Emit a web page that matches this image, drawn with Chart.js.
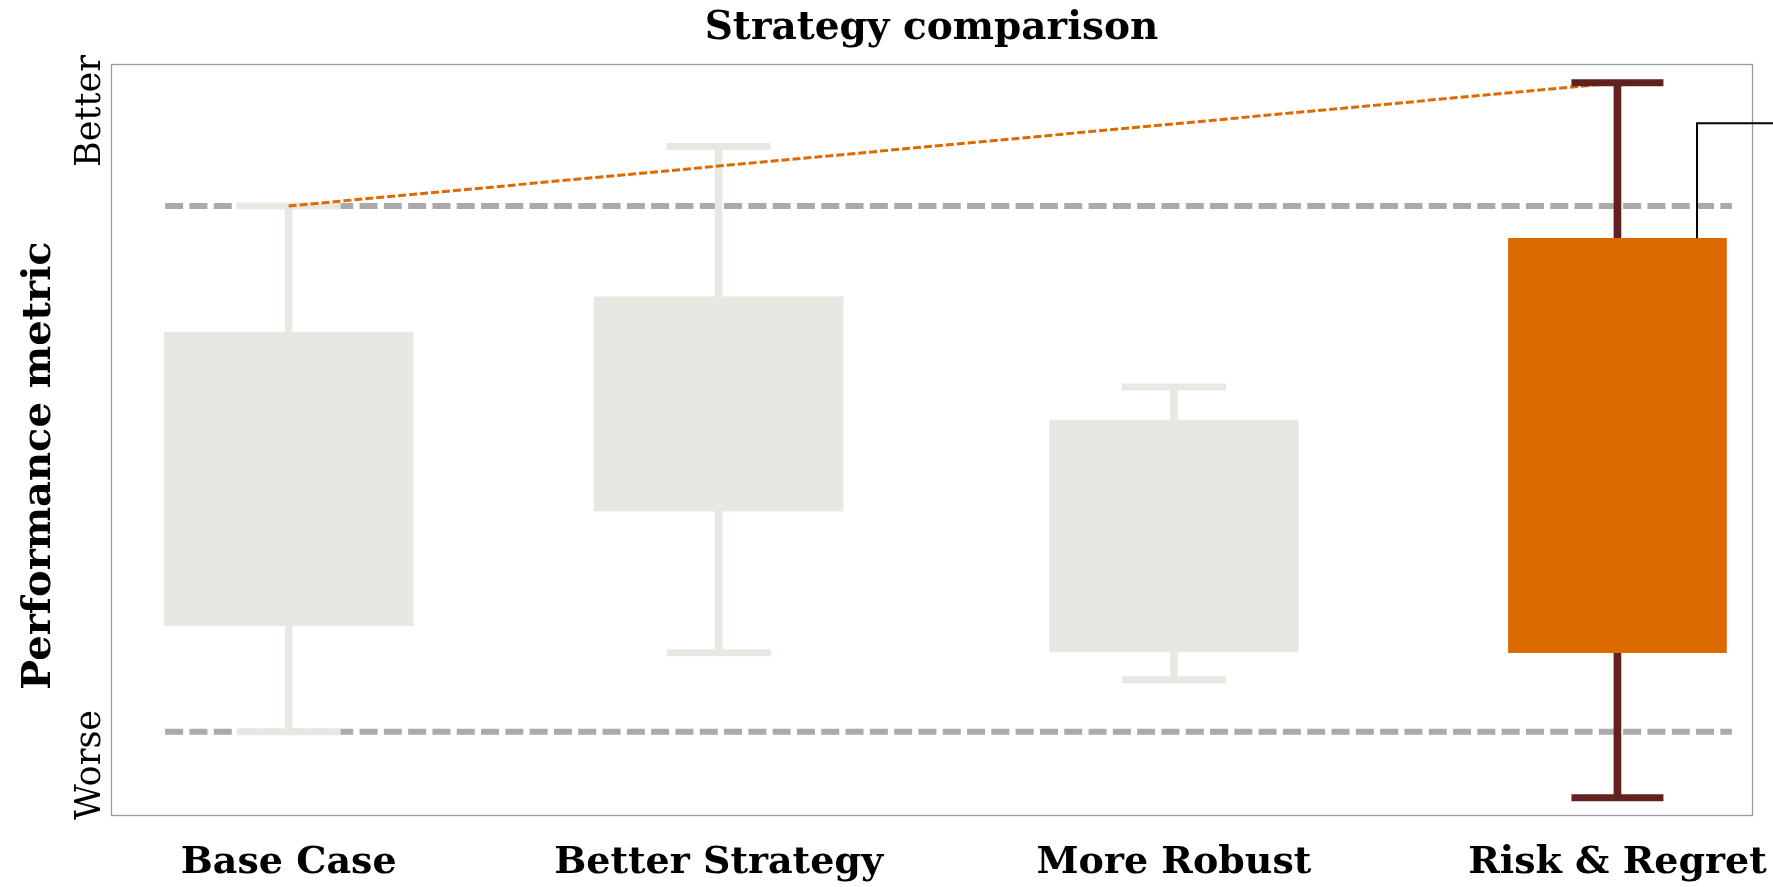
<!DOCTYPE html>
<html>
<head>
<meta charset="utf-8">
<script src="https://cdn.jsdelivr.net/npm/chart.js@4.4.1/dist/chart.umd.min.js"></script>
<style>
  html, body { margin: 0; padding: 0; background: #ffffff; }
  #wrap { width: 1773px; height: 887px; position: relative; }
</style>
</head>
<body>
<div id="wrap"><canvas id="c" width="1773" height="887"></canvas></div>
<script>
// ---- Data (y axis 0 = worst, 100 = best) ----
const categories   = ['Base Case', 'Better Strategy', 'More Robust', 'Risk & Regret'];
const xPositions   = [0.433, 1.481, 2.591, 3.672];   // category positions on the x axis
const whiskerHigh  = [81.1, 89.0, 57.0, 97.5];
const boxHigh      = [64.3, 69.0, 52.6, 76.8];
const boxLow       = [25.2, 40.5, 21.7, 21.6];
const whiskerLow   = [11.1, 21.6, 18.0, 2.3];
const referenceLevels = [81.1, 11.1];
const referenceSpan   = [0.132, 3.951];
const yTickLabels  = ['Worse', 'Better'];
const highlightIndex = 3;
const calloutPoint = [3.866, 92.1];
const calloutEndX  = 4.06;
const chartTitle   = 'Strategy comparison';
const yAxisTitle   = 'Performance metric';

// ---- Styles ----
const GRAY = '#E8E7E2';
const ORANGE = '#DD6A00';
const MAROON = '#62211F';
const REF = '#AAAAAA';
const SERIF = "'DejaVu Serif', serif";

const grayIdx = categories.map((_, i) => i).filter(i => i !== highlightIndex);
const hi = highlightIndex;

const datasets = [];
// reference dashed lines (drawn at the back)
referenceLevels.forEach(v => {
  datasets.push({
    type: 'line', order: 20,
    data: referenceSpan.map(x => ({ x, y: v })),
    borderColor: REF, borderWidth: 6, borderDash: [18, 6.3],
    pointRadius: 0, tension: 0, fill: false
  });
});
// gray whiskers
datasets.push({
  type: 'bar', order: 15, stack: 'all', barThickness: 7,
  data: grayIdx.map(i => ({ x: xPositions[i], y: [whiskerLow[i], whiskerHigh[i]] })),
  backgroundColor: GRAY, borderWidth: 0
});
// gray boxes
datasets.push({
  type: 'bar', order: 14, stack: 'all', barThickness: 249,
  data: grayIdx.map(i => ({ x: xPositions[i], y: [boxLow[i], boxHigh[i]] })),
  backgroundColor: GRAY, borderWidth: 0
});
// gray caps
datasets.push({
  type: 'line', order: 13, showLine: false,
  data: grayIdx.flatMap(i => [{ x: xPositions[i], y: whiskerHigh[i] }, { x: xPositions[i], y: whiskerLow[i] }]),
  pointStyle: 'line', pointRadius: 52, pointBorderWidth: 7,
  pointBorderColor: GRAY, pointBackgroundColor: GRAY
});
// orange dashed connector between best values
datasets.push({
  type: 'line', order: 12,
  data: [{ x: xPositions[0], y: whiskerHigh[0] }, { x: xPositions[hi], y: whiskerHigh[hi] }],
  borderColor: ORANGE, borderWidth: 3, borderDash: [8, 3],
  pointRadius: 0, tension: 0, fill: false
});
// highlighted whisker
datasets.push({
  type: 'bar', order: 11, stack: 'all', barThickness: 7,
  data: [{ x: xPositions[hi], y: [whiskerLow[hi], whiskerHigh[hi]] }],
  backgroundColor: MAROON, borderWidth: 0
});
// highlighted box
datasets.push({
  type: 'bar', order: 10, stack: 'all', barThickness: 218,
  data: [{ x: xPositions[hi], y: [boxLow[hi], boxHigh[hi]] }],
  backgroundColor: ORANGE, borderWidth: 0
});
// highlighted caps
datasets.push({
  type: 'line', order: 9, showLine: false,
  data: [{ x: xPositions[hi], y: whiskerHigh[hi] }, { x: xPositions[hi], y: whiskerLow[hi] }],
  pointStyle: 'line', pointRadius: 46, pointBorderWidth: 7,
  pointBorderColor: MAROON, pointBackgroundColor: MAROON
});
// callout line
datasets.push({
  type: 'line', order: 8, clip: false,
  data: [
    { x: calloutPoint[0], y: boxHigh[hi] },
    { x: calloutPoint[0], y: calloutPoint[1] },
    { x: calloutEndX, y: calloutPoint[1] }
  ],
  borderColor: '#000000', borderWidth: 2, pointRadius: 0, tension: 0, fill: false
});

const decorPlugin = {
  id: 'decor',
  beforeDraw(chart) {
    const ctx = chart.ctx;
    ctx.save();
    ctx.fillStyle = '#ffffff';
    ctx.fillRect(0, 0, chart.width, chart.height);
    ctx.restore();
  },
  beforeDatasetsDraw(chart) {
    const { ctx, chartArea: a } = chart;
    ctx.save();
    ctx.strokeStyle = '#9a9a9a';
    ctx.lineWidth = 1.3;
    ctx.strokeRect(a.left + 0.5, a.top + 0.5, a.right - a.left, a.bottom - a.top);
    ctx.restore();
  },
  afterDraw(chart) {
    const { ctx, chartArea: a } = chart;
    const y = chart.scales.y;
    ctx.save();
    ctx.fillStyle = '#000000';
    // y tick words
    ctx.font = "35px " + SERIF;
    ctx.textBaseline = 'alphabetic';
    ctx.save();
    ctx.translate(a.left - 11, y.getPixelForValue(y.max) - 9);
    ctx.rotate(-Math.PI / 2);
    ctx.textAlign = 'right';
    ctx.fillText(yTickLabels[1], 0, 0);
    ctx.restore();
    ctx.save();
    ctx.translate(a.left - 11, y.getPixelForValue(y.min) + 5);
    ctx.rotate(-Math.PI / 2);
    ctx.textAlign = 'left';
    ctx.fillText(yTickLabels[0], 0, 0);
    ctx.restore();
    // y axis title
    ctx.font = "bold 40px " + SERIF;
    ctx.textAlign = 'center';
    ctx.textBaseline = 'middle';
    ctx.translate(40, (a.top + a.bottom) / 2 + 26);
    ctx.rotate(-Math.PI / 2);
    ctx.fillText(yAxisTitle, 0, 0);
    ctx.restore();
  }
};

new Chart(document.getElementById('c'), {
  type: 'bar',
  data: { datasets },
  plugins: [decorPlugin],
  options: {
    responsive: false,
    animation: false,
    devicePixelRatio: 1,
    layout: { padding: { left: 111, right: 21, top: 0, bottom: 0 }, autoPadding: false },
    plugins: {
      legend: { display: false },
      tooltip: { enabled: false },
      title: {
        display: true, text: chartTitle, fullSize: false,
        color: '#000000',
        font: { family: SERIF, weight: 'bold', size: 39, lineHeight: 1 },
        padding: { top: 9, bottom: 16 }
      }
    },
    scales: {
      x: {
        type: 'linear', min: 0, max: 4, offset: false,
        grid: { display: false, drawTicks: false },
        border: { display: false },
        afterBuildTicks: s => { s.ticks = xPositions.map(v => ({ value: v })); },
        afterFit: s => { s.height = 72; s.paddingLeft = 0; s.paddingRight = 0; },
        ticks: {
          autoSkip: false, maxRotation: 0, minRotation: 0, padding: 25,
          color: '#000000',
          font: { family: SERIF, weight: 'bold', size: 38 },
          callback: (v, i) => categories[i]
        }
      },
      y: {
        type: 'linear', min: 0, max: 100, display: false, stacked: false
      }
    }
  }
});
</script>
</body>
</html>
